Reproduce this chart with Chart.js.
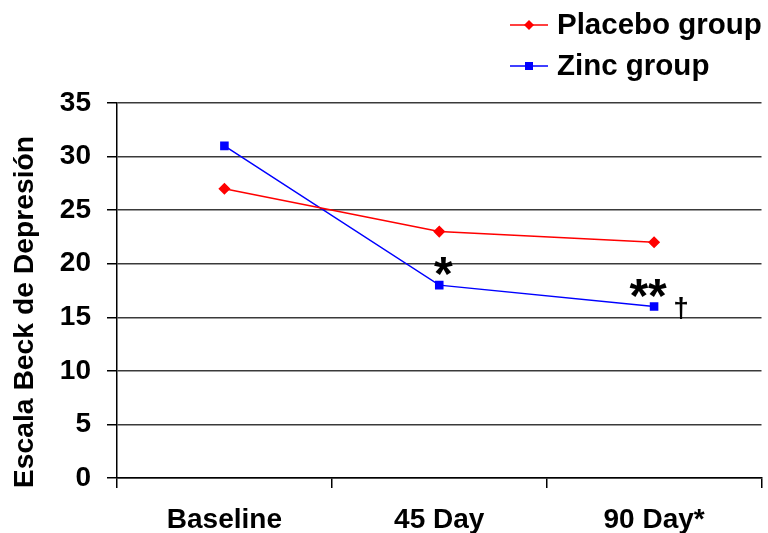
<!DOCTYPE html>
<html>
<head>
<meta charset="utf-8">
<script src="https://cdn.jsdelivr.net/npm/chart.js@4.4.0/dist/chart.umd.min.js"></script>
<style>
  html, body { margin: 0; padding: 0; background: #fff; }
  #wrap { width: 768px; height: 533px; }
</style>
</head>
<body>
<div id="wrap"><canvas id="myChart" width="768" height="533"></canvas></div>
<script>
const categories = ["Baseline", "45 Day", "90 Day*"];
const placebo = [27, 23, 22];
const zinc = [31, 18, 16];
const yTicks = [0, 5, 10, 15, 20, 25, 30, 35];
const yTitle = "Escala Beck de Depresión";
const zincMarks = ["", "*", "**"];
const daggerMarks = ["", "", "\u2020"];

const FONT = "'Liberation Sans', Arial, sans-serif";

const ctx = document.getElementById("myChart").getContext("2d");

// legend drawn in the top right, like the original
const legendPlugin = {
  id: "sideLegend",
  afterDraw(chart) {
    const c = chart.ctx;
    const items = chart.data.datasets;
    c.save();
    items.forEach((ds, i) => {
      const y = 25 + i * 41;
      c.strokeStyle = ds.borderColor;
      c.lineWidth = 1.5;
      c.beginPath();
      c.moveTo(510, y);
      c.lineTo(548, y);
      c.stroke();
      c.fillStyle = ds.pointBackgroundColor;
      if (ds.pointStyle === "rectRot") {
        c.beginPath();
        c.moveTo(529, y - 5);
        c.lineTo(534, y);
        c.lineTo(529, y + 5);
        c.lineTo(524, y);
        c.closePath();
        c.fill();
      } else {
        c.fillRect(525, y - 4, 8, 8);
      }
      c.fillStyle = "#000";
      c.font = "bold 29.5px " + FONT;
      c.textAlign = "left";
      c.textBaseline = "middle";
      c.fillText(ds.label, 557, y + 1);
    });
    c.restore();
  },
};

// y title sits a bit below the middle of the axis in the original
const titlePlugin = {
  id: "yTitle",
  afterDraw(chart) {
    const c = chart.ctx;
    c.save();
    c.translate(25, 312);
    c.rotate(-Math.PI / 2);
    c.fillStyle = "#000";
    c.font = "bold 28.3px " + FONT;
    c.textAlign = "center";
    c.textBaseline = "middle";
    c.fillText(yTitle, 0, 0);
    c.restore();
  },
};

// significance marks next to the zinc points
const marksPlugin = {
  id: "marks",
  afterDatasetsDraw(chart) {
    const c = chart.ctx;
    const xs = chart.scales.x;
    const ys = chart.scales.y;
    c.save();
    c.fillStyle = "#000";
    c.textAlign = "center";
    c.textBaseline = "alphabetic";
    zinc.forEach((v, i) => {
      const px = xs.getPixelForValue(i);
      const py = ys.getPixelForValue(v);
      if (zincMarks[i]) {
        c.font = "bold 48px " + FONT;
        const dx = zincMarks[i].length > 1 ? -6 : 4;
        c.fillText(zincMarks[i], px + dx, py + 5);
      }
      if (daggerMarks[i]) {
        c.font = "bold 28px " + FONT;
        c.fillText(daggerMarks[i], px + 27, py + 10);
      }
    });
    c.restore();
  },
};

new Chart(ctx, {
  type: "line",
  data: {
    labels: categories,
    datasets: [
      {
        label: "Placebo group",
        data: placebo,
        borderColor: "#ff0000",
        backgroundColor: "#ff0000",
        pointBackgroundColor: "#ff0000",
        pointBorderColor: "#ff0000",
        pointStyle: "rectRot",
        pointRadius: 5,
        borderWidth: 1.5,
        tension: 0,
      },
      {
        label: "Zinc group",
        data: zinc,
        borderColor: "#0000ff",
        backgroundColor: "#0000ff",
        pointBackgroundColor: "#0000ff",
        pointBorderColor: "#0000ff",
        pointStyle: "rect",
        pointRadius: 5,
        borderWidth: 1.5,
        tension: 0,
      },
    ],
  },
  options: {
    responsive: false,
    animation: false,
    layout: { padding: { top: 103, right: 6, left: 0, bottom: 0 } },
    plugins: {
      legend: { display: false },
      tooltip: { enabled: false },
    },
    scales: {
      x: {
        offset: true,
        afterFit: (scale) => {
          scale.height = 55;
        },
        grid: {
          offset: true,
          drawOnChartArea: false,
          drawTicks: true,
          tickLength: 10,
          tickColor: "#000",
          lineWidth: 1.5,
        },
        border: { color: "#000", width: 1.5 },
        ticks: {
          color: "#000",
          padding: 15,
          maxRotation: 0,
          font: { family: FONT, size: 28, weight: "bold" },
        },
      },
      y: {
        min: 0,
        max: 35,
        afterFit: (scale) => {
          scale.width = 117;
        },
        afterBuildTicks: (scale) => {
          scale.ticks = yTicks.map((v) => ({ value: v }));
        },
        grid: {
          color: "#3a3a3a",
          lineWidth: 1.5,
          tickLength: 10,
          tickColor: "#000",
        },
        border: { color: "#000", width: 1.5 },
        ticks: {
          color: "#000",
          padding: 16,
          font: { family: FONT, size: 28, weight: "bold" },
        },
      },
    },
  },
  plugins: [legendPlugin, titlePlugin, marksPlugin],
});
</script>
</body>
</html>
